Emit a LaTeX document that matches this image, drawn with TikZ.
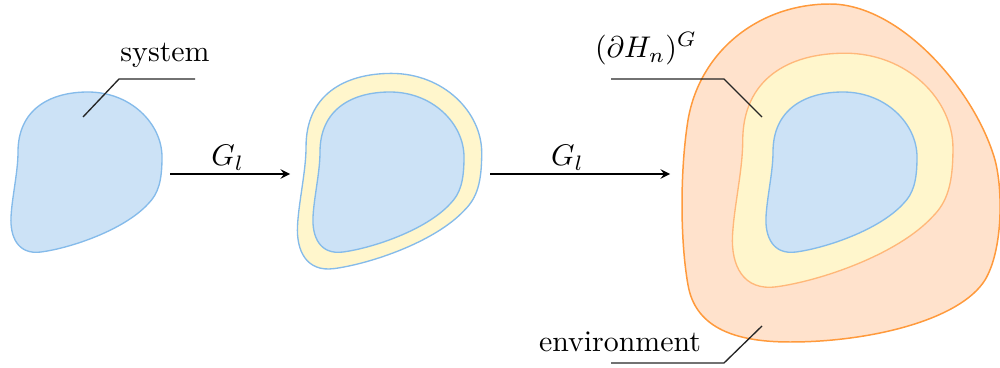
\documentclass[tikz,border=0pt]{standalone}
\definecolor{sysfill}{HTML}{CCE2F6}
\definecolor{sysline}{HTML}{85BBEA}
\definecolor{ringfill}{HTML}{FFF6CC}
\definecolor{ringline}{HTML}{FFB87A}
\definecolor{envfill}{HTML}{FFE2CC}
\definecolor{envline}{HTML}{FF9A3C}
\tikzset{
    sysblob/.style={fill=sysfill, draw=sysline, line width=0.45pt},
    ringblob/.style={fill=ringfill, draw=#1, line width=0.45pt},
    envblob/.style={fill=envfill, draw=envline, line width=0.5pt},
    leader/.style={black!85, line width=0.45pt},
    lbl/.style={inner sep=1pt}
}
% one blob outline, centred at the origin
\newcommand{\drawblob}[1]{%
    \draw[#1] (2,-80) .. controls (-37,-80) and (-68,-62) .. (-68,-20)
        .. controls (-68,0) and (-74,25) .. (-75,45)
        .. controls (-76,65) and (-68,83) .. (-45,80)
        .. controls (-15,76) and (38,58) .. (62,32)
        .. controls (72,22) and (76,10) .. (76,-15)
        .. controls (76,-48) and (45,-80) .. (2,-80) -- cycle;}
\begin{document}
\begin{tikzpicture}[x=0.01176cm, y=-0.01176cm, >=stealth]
    \useasboundingbox (0,0) rectangle (1000,368);
    \clip (0,0) rectangle (1000,368);

    % first picture: the system
    \begin{scope}[shift={(86,172)}]
        \drawblob{sysblob}
    \end{scope}

    % second picture: system and one layer
    \begin{scope}[shift={(389,171)}, scale=1.22]
        \drawblob{ringblob=sysline}
    \end{scope}
    \begin{scope}[shift={(388,172)}]
        \drawblob{sysblob}
    \end{scope}

    % third picture: environment round it
    \draw[envblob] (830,4) .. controls (760,4) and (700,50) .. (688,120)
        .. controls (680,170) and (680,240) .. (688,285)
        .. controls (695,325) and (730,342) .. (790,342)
        .. controls (870,342) and (960,320) .. (985,280)
        .. controls (1003,250) and (1003,190) .. (995,160)
        .. controls (975,90) and (900,4) .. (830,4) -- cycle;
    \begin{scope}[shift={(842,170)}, scale=1.46]
        \drawblob{ringblob=ringline}
    \end{scope}
    \begin{scope}[shift={(841,172)}]
        \drawblob{sysblob}
    \end{scope}

    % arrows
    \coordinate (g1a) at (170,174);
    \coordinate (g1b) at (290,174);
    \coordinate (g2a) at (490,174);
    \coordinate (g2b) at (670,174);
    \draw[->] (g1a) -- node[above, lbl, pos=0.48] (g1lbl) {$G_l$} (g1b);
    \draw[->] (g2a) -- node[above, lbl, pos=0.43] (g2lbl) {$G_l$} (g2b);

    % labels with leader lines
    \node (systxt) at (165,55) {system};
    \coordinate (sysdot) at (83,117);
    \coordinate (syskink) at (119,79);
    \coordinate (sysend) at (195,79);
    \draw[leader] (sysdot) -- (syskink) -- (sysend);

    \node (bdtxt) at (646,49) {$(\partial H_n)^G$};
    \coordinate (bddot) at (762,117);
    \coordinate (bdkink) at (724,79);
    \coordinate (bdend) at (611,79);
    \draw[leader] (bddot) -- (bdkink) -- (bdend);

    \node (envtxt) at (620,342) {environment};
    \coordinate (envdot) at (762,326);
    \coordinate (envkink) at (724,363);
    \coordinate (envend) at (611,363);
    \draw[leader] (envdot) -- (envkink) -- (envend);
\end{tikzpicture}
\end{document}
